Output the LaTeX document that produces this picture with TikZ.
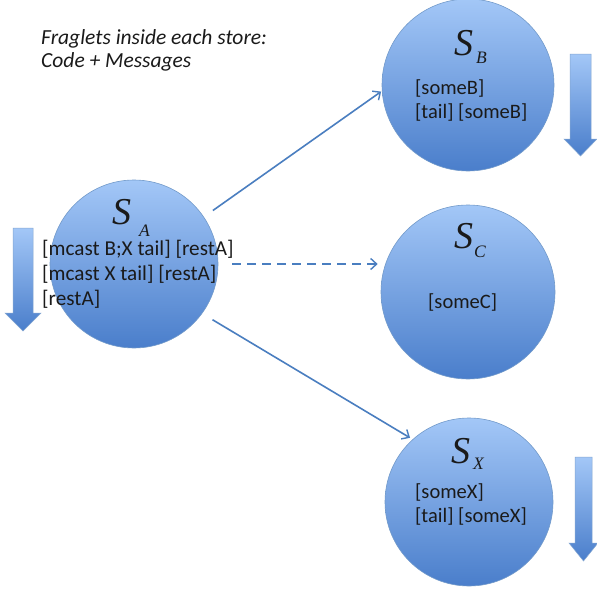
\documentclass[tikz,border=0pt]{standalone}
\usepackage{fontspec}
\setmainfont{Carlito}
\newfontfamily\timesf{Liberation Serif}
\usetikzlibrary{arrows.meta}
\definecolor{edgeblue}{HTML}{4F81BD}
\definecolor{topblue}{HTML}{A3C7F7}
\definecolor{botblue}{HTML}{4A7ECB}
\definecolor{linecol}{HTML}{4A7EC0}
\definecolor{txt}{HTML}{1A1A1A}
\tikzset{
  x=1pt, y=-1pt,
  store/.style={circle, draw=edgeblue!80, line width=0.6pt, top color=topblue, bottom color=botblue, inner sep=0pt},
  frag/.style={anchor=base west, inner sep=0pt, text=txt, font=\fontsize{20.5}{24}\selectfont},
  fragA/.style={anchor=base west, inner sep=0pt, text=txt, font=\fontsize{21.2}{24}\selectfont},
  bigS/.style={anchor=base west, inner sep=0pt, text=txt, font=\timesf\itshape\fontsize{38}{38}\selectfont},
  subS/.style={anchor=base west, inner sep=0pt, text=txt, font=\timesf\itshape\fontsize{17.5}{17.5}\selectfont},
  titletext/.style={anchor=base west, inner sep=0pt, text=txt, font=\itshape\fontsize{21.5}{24}\selectfont},
  conn/.style={draw=linecol, line width=1.6pt, -{Straight Barb[length=6pt,width=11pt,line width=1.4pt]}},
  blockarrow/.style={draw=edgeblue!70, line width=0.5pt, top color=topblue, bottom color=botblue},
}
\begin{document}
\begin{tikzpicture}
\path[use as bounding box, fill=white] (0,0) rectangle (597,589);

% stores
\node[store, minimum size=168pt] (A) at (134,264) {};
\node[store, minimum size=172pt] (B) at (468,85) {};
\node[store, minimum size=174pt] (C) at (468,292) {};
\node[store, minimum size=168pt] (X) at (469,502) {};

% title
\node[titletext] (t1) at (41,44) {Fraglets inside each store:};
\node[titletext] (t2) at (41,67) {Code + Messages};

% S_A
\node[bigS] (sa) at (112,224) {S};
\node[subS] (saa) at (139,236) {A};
\node[fragA] (a1) at (42,255) {[mcast B;X tail] [restA]};
\node[fragA] (a2) at (42,280) {[mcast X tail] [restA]};
\node[fragA] (a3) at (42,305) {[restA]};

% S_B
\node[bigS] (sb) at (454,55) {S};
\node[subS] (sbb) at (476,63) {B};
\node[frag] (b1) at (415,94) {[someB]};
\node[frag] (b2) at (415,118) {[tail] [someB]};

% S_C
\node[bigS] (sc) at (454,248) {S};
\node[subS] (scc) at (474,257) {C};
\node[frag] (c1) at (428,308) {[someC]};

% S_X
\node[bigS] (sx) at (451,463) {S};
\node[subS] (sxx) at (473,469) {X};
\node[frag] (x1) at (415,498) {[someX]};
\node[frag] (x2) at (415,522) {[tail] [someX]};

% connectors
\draw[conn, shorten <=11pt, shorten >=1pt] (A.34) -- (B.184);
\draw[conn, dashed, dash pattern=on 9pt off 6pt, shorten <=14pt, shorten >=3pt] (A.east) -- (A.east -| C.west);
\draw[conn, shorten <=12pt, shorten >=3pt] (A.-36) -- (X.132);

% block arrows (flow direction)
\path[blockarrow] (13,228) -- (33,228) -- (33,313) -- (41,313) -- (23,331) -- (5,313) -- (13,313) -- cycle;
\path[blockarrow] (570,54) -- (591,54) -- (591,139) -- (597,139) -- (580.5,156) -- (564,139) -- (570,139) -- cycle;
\path[blockarrow] (575,457) -- (592,457) -- (592,543) -- (598,543) -- (583.5,561) -- (569,543) -- (575,543) -- cycle;
\end{tikzpicture}
\end{document}
